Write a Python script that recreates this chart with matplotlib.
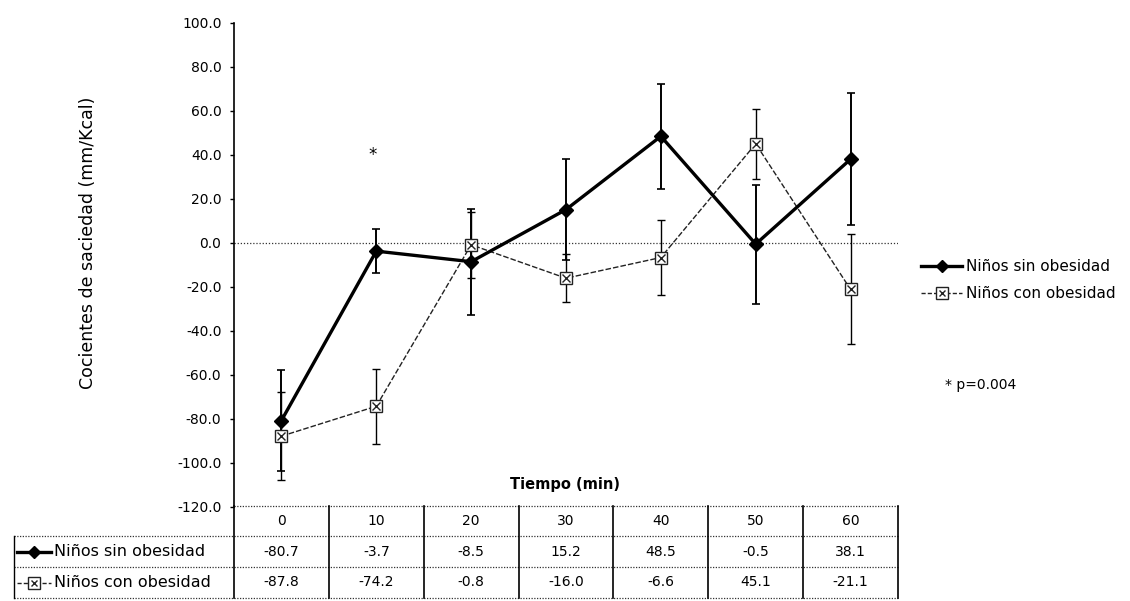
import matplotlib
matplotlib.use("Agg")
import matplotlib.pyplot as plt
import matplotlib.transforms as mtransforms
from matplotlib.lines import Line2D

plt.rcParams['font.family'] = ['DejaVu Sans']

# ---- data ----
tiempos = ["0", "10", "20", "30", "40", "50", "60"]
sin_obesidad = [-80.7, -3.7, -8.5, 15.2, 48.5, -0.5, 38.1]
con_obesidad = [-87.8, -74.2, -0.8, -16.0, -6.6, 45.1, -21.1]
sin_err = [23, 10, 24, 23, 24, 27, 30]
con_err = [20, 17, 15, 11, 17, 16, 25]
series_names = ["Niños sin obesidad", "Niños con obesidad"]
y_ticks = [100, 80, 60, 40, 20, 0, -20, -40, -60, -80, -100, -120]
star_pos = (1, 40.0)

W, H = 1130, 601
fig = plt.figure(figsize=(W / 100, H / 100), dpi=100)
fx = lambda px: px / W
fy = lambda py: 1 - py / H

ax_l, ax_r, ax_t, ax_b = 234, 898, 23, 507
ax = fig.add_axes([fx(ax_l), fy(ax_b), fx(ax_r - ax_l), (ax_b - ax_t) / H])

x = list(range(len(tiempos)))
FS = 10
FS_LAB = 11.5

# series
ax.errorbar(x, sin_obesidad, yerr=sin_err, fmt='none', ecolor='black',
            elinewidth=1.4, capsize=3, capthick=1.2, zorder=3)
ax.errorbar(x, con_obesidad, yerr=con_err, fmt='none', ecolor='black',
            elinewidth=1.0, capsize=3, capthick=1.0, zorder=3)
ax.plot(x, sin_obesidad, color='black', lw=2.4, marker='D', ms=7,
        mfc='black', mec='black', zorder=5)
ax.plot(x, con_obesidad, color='#222222', lw=1.0, ls=(0, (4, 1.5)), zorder=4)
ax.plot(x, con_obesidad, ls='none', marker='s', ms=9, mfc='white',
        mec='#222222', mew=1.0, zorder=6)
ax.plot(x, con_obesidad, ls='none', marker='x', ms=6, mec='#222222',
        mew=1.0, zorder=7)

ax.axhline(0, color='#333333', lw=0.9, ls=(0, (1, 1.5)), zorder=1)

ax.set_xlim(-0.5, len(tiempos) - 0.5)
ax.set_ylim(-120, 100)
ax.set_yticks(y_ticks)
ax.set_yticklabels([f"{v:.1f}" for v in y_ticks], fontsize=FS)
ax.set_xticks([])
for s in ['top', 'right', 'bottom']:
    ax.spines[s].set_visible(False)
ax.spines['left'].set_linewidth(1.2)
ax.tick_params(axis='y', direction='out', length=3, width=1, pad=6)

ax.text(star_pos[0] - 0.04, star_pos[1], "*", ha='center', va='center',
        fontsize=12)

fig.text(fx(88), fy(243), "Cocientes de saciedad (mm/Kcal)", rotation=90,
         ha='center', va='center', fontsize=12.5)
fig.text(fx(565), fy(484), "Tiempo (min)", ha='center', va='center',
         fontsize=FS + 0.5, fontweight='bold')

# ---- data table ----
tr = mtransforms.blended_transform_factory(ax.transData, fig.transFigure)
rows_y = [506, 536, 567, 598]
left_px = 14
xl, xr = -0.5, len(tiempos) - 0.5
dot = dict(color='#333333', lw=0.9, ls=(0, (1, 1.2)), clip_on=False)
# horizontal lines
fig.add_artist(Line2D([xl, xr], [fy(rows_y[0])] * 2, transform=tr, **dot))
for yy in rows_y[1:]:
    fig.add_artist(Line2D([fx(left_px), fx(ax_l)], [fy(yy)] * 2,
                          transform=fig.transFigure, **dot))
    fig.add_artist(Line2D([xl, xr], [fy(yy)] * 2, transform=tr, **dot))
# vertical lines
for i in range(len(tiempos) + 1):
    fig.add_artist(Line2D([xl + i] * 2, [fy(rows_y[0]), fy(rows_y[-1])],
                          transform=tr, color='black', lw=1.2))
fig.add_artist(Line2D([fx(left_px)] * 2, [fy(rows_y[1]), fy(rows_y[-1])],
                      transform=fig.transFigure, color='black', lw=1.0))

centers = [(rows_y[k] + rows_y[k + 1]) / 2 for k in range(3)]
for i, t in enumerate(tiempos):
    fig.text(i, fy(centers[0]), t, transform=tr, ha='center', va='center',
             fontsize=FS)
    fig.text(i, fy(centers[1]), f"{sin_obesidad[i]:.1f}", transform=tr,
             ha='center', va='center', fontsize=FS)
    fig.text(i, fy(centers[2]), f"{con_obesidad[i]:.1f}", transform=tr,
             ha='center', va='center', fontsize=FS)


def draw_handle(x0, x1, yc, kind):
    xs = [fx(x0), fx(x1)]
    ys = [fy(yc)] * 2
    xm = [(xs[0] + xs[1]) / 2]
    if kind == 0:
        fig.add_artist(Line2D(xs, ys, color='black', lw=2.4))
        fig.add_artist(Line2D(xm, ys[:1], marker='D', ms=6, color='black'))
    else:
        fig.add_artist(Line2D(xs, ys, color='#222222', lw=1.0,
                              ls=(0, (3, 1.5))))
        fig.add_artist(Line2D(xm, ys[:1], marker='s', ms=8, mfc='white',
                              mec='#222222', ls='none'))
        fig.add_artist(Line2D(xm, ys[:1], marker='x', ms=5, mec='#222222',
                              ls='none'))


for k, name in enumerate(series_names):
    draw_handle(17, 51, centers[k + 1], k)
    fig.text(fx(54), fy(centers[k + 1]), name, ha='left', va='center',
             fontsize=FS_LAB)

# ---- right legend ----
for k, (name, yy) in enumerate(zip(series_names, [266, 293])):
    draw_handle(921, 962, yy, k)
    fig.text(fx(966), fy(yy), name, ha='left', va='center', fontsize=11)

fig.text(fx(945), fy(385), "* p=0.004", ha='left', va='center', fontsize=FS)

fig.savefig("out.png", dpi=100)
